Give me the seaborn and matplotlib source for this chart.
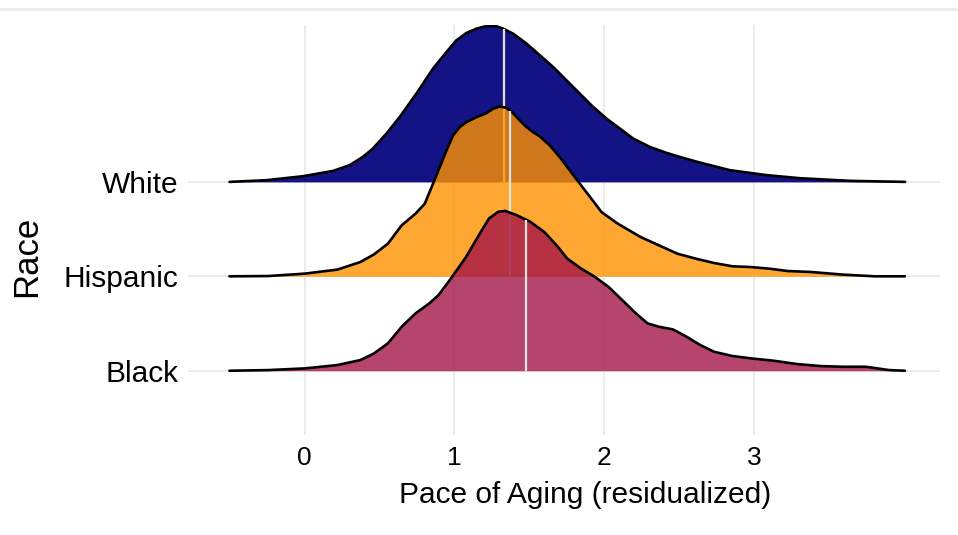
#!/usr/bin/env python3
"""Ridgeline chart: Pace of Aging (residualized) by race."""

import matplotlib

matplotlib.use("Agg")
import matplotlib.pyplot as plt
from matplotlib.lines import Line2D
import numpy as np
import seaborn as sns

# -- data -------------------------------------------------------------------

groups = ["Black", "Hispanic", "White"]

white_x = [-0.501, -0.256, -0.011, 0.189, 0.301, 0.389, 0.456, 0.546, 0.635,
           0.746, 0.857, 0.947, 1.013, 1.080, 1.147, 1.214, 1.281, 1.325,
           1.391, 1.481, 1.570, 1.659, 1.748, 1.837, 1.926, 2.015, 2.104,
           2.193, 2.305, 2.416, 2.527, 2.638, 2.839, 3.086, 3.307, 3.641,
           4.008]
white_h = [0.0, 0.018, 0.060, 0.116, 0.177, 0.265, 0.353, 0.512, 0.688,
           0.935, 1.200, 1.376, 1.499, 1.577, 1.623, 1.651, 1.648, 1.623,
           1.570, 1.465, 1.341, 1.217, 1.076, 0.935, 0.794, 0.671, 0.565,
           0.459, 0.370, 0.307, 0.254, 0.205, 0.124, 0.071, 0.039, 0.011,
           0.0]

hispanic_x = [-0.502, -0.241, 0.004, 0.218, 0.372, 0.464, 0.556, 0.648,
              0.740, 0.802, 0.857, 0.902, 0.947, 0.991, 1.035, 1.080, 1.147,
              1.214, 1.258, 1.303, 1.347, 1.391, 1.436, 1.481, 1.525, 1.570,
              1.637, 1.703, 1.770, 1.837, 1.906, 1.982, 2.090, 2.243, 2.365,
              2.488, 2.611, 2.733, 2.856, 2.979, 3.102, 3.224, 3.378, 3.593,
              3.807, 4.007]
hispanic_h = [0.0, 0.003, 0.029, 0.071, 0.151, 0.233, 0.346, 0.540, 0.663,
              0.769, 0.981, 1.157, 1.333, 1.492, 1.580, 1.633, 1.686, 1.728,
              1.775, 1.799, 1.785, 1.728, 1.651, 1.580, 1.527, 1.481, 1.386,
              1.262, 1.122, 0.981, 0.839, 0.680, 0.558, 0.416, 0.328, 0.240,
              0.187, 0.141, 0.106, 0.098, 0.081, 0.056, 0.046, 0.018, 0.0,
              0.0]

black_x = [-0.502, -0.241, 0.004, 0.218, 0.372, 0.464, 0.556, 0.648, 0.740,
           0.832, 0.894, 0.985, 1.078, 1.170, 1.231, 1.292, 1.338, 1.415,
           1.507, 1.599, 1.691, 1.752, 1.844, 1.937, 2.028, 2.120, 2.212,
           2.289, 2.365, 2.458, 2.550, 2.641, 2.733, 2.856, 2.979, 3.132,
           3.286, 3.439, 3.593, 3.747, 3.901, 4.007]
black_h = [0.0, 0.007, 0.025, 0.060, 0.113, 0.184, 0.290, 0.466, 0.607,
           0.713, 0.801, 0.995, 1.206, 1.454, 1.613, 1.683, 1.693, 1.648,
           1.577, 1.471, 1.312, 1.189, 1.084, 0.995, 0.889, 0.748, 0.607,
           0.502, 0.466, 0.438, 0.360, 0.272, 0.201, 0.156, 0.131, 0.106,
           0.071, 0.050, 0.042, 0.042, 0.007, 0.0]

medians = {"White": 1.33, "Hispanic": 1.37, "Black": 1.48}

x_ticks = [0, 1, 2, 3]

# -- style -------------------------------------------------------------------

FILLS = {"White": "#04047F", "Hispanic": "#FF9100", "Black": "#A21045"}
ALPHAS = {"White": 0.94, "Hispanic": 0.80, "Black": 0.78}
GRID = "#EBEBEB"

sns.set_theme(style="whitegrid")
plt.rcParams["font.family"] = ["Liberation Sans", "DejaVu Sans"]


def main():
    fig, ax = plt.subplots(figsize=(9.58, 5.35), dpi=100)
    fig.subplots_adjust(left=0.196, right=0.981, top=0.953, bottom=0.187)

    curves = {
        "White": (white_x, white_h),
        "Hispanic": (hispanic_x, hispanic_h),
        "Black": (black_x, black_h),
    }
    # top ridge first so lower ridges sit over it
    for name in ["White", "Hispanic", "Black"]:
        base = groups.index(name) + 1
        xs = np.array(curves[name][0])
        ys = base + np.array(curves[name][1])
        ax.fill_between(xs, base, ys, color=FILLS[name], alpha=ALPHAS[name],
                        linewidth=0, zorder=3)
        sns.lineplot(x=xs, y=ys, color="black", linewidth=1.9, sort=False,
                     estimator=None, ax=ax, zorder=3)
        m = medians[name]
        top = base + np.interp(m, xs, curves[name][1])
        ax.plot([m, m], [base, top], color="#E2E2E2", linewidth=1.6,
                zorder=3, solid_capstyle="butt")

    for line in ax.get_lines():
        line.set_solid_joinstyle("round")

    ax.set_xlim(-0.78, 4.24)
    ax.set_ylim(0.32, 4.66)
    ax.set_xticks(x_ticks)
    ax.set_xticklabels([str(t) for t in x_ticks])
    ax.set_yticks([1, 2, 3])
    ax.set_yticklabels(groups)
    ax.grid(True, color=GRID, linewidth=1.4)
    ax.set_axisbelow(True)
    sns.despine(ax=ax, left=True, bottom=True)
    ax.tick_params(axis="y", labelsize=21.5, pad=6.5, length=0, colors="black")
    ax.tick_params(axis="x", labelsize=19, pad=8, length=0, colors="black")
    ax.set_xlabel("Pace of Aging (residualized)", fontsize=21.5, color="black")
    ax.set_ylabel("Race", fontsize=25, color="black")
    ax.xaxis.set_label_coords(0.529, -0.113)
    ax.yaxis.set_label_coords(-0.192, 0.436)

    # thin rule left over from the panel above in the screenshot
    fig.add_artist(Line2D([0, 1], [1 - 8.5 / 535] * 2, color="#EBEBEB",
                          linewidth=2.2, transform=fig.transFigure))

    fig.savefig("out.png", dpi=100)
    plt.close(fig)


if __name__ == "__main__":
    main()
